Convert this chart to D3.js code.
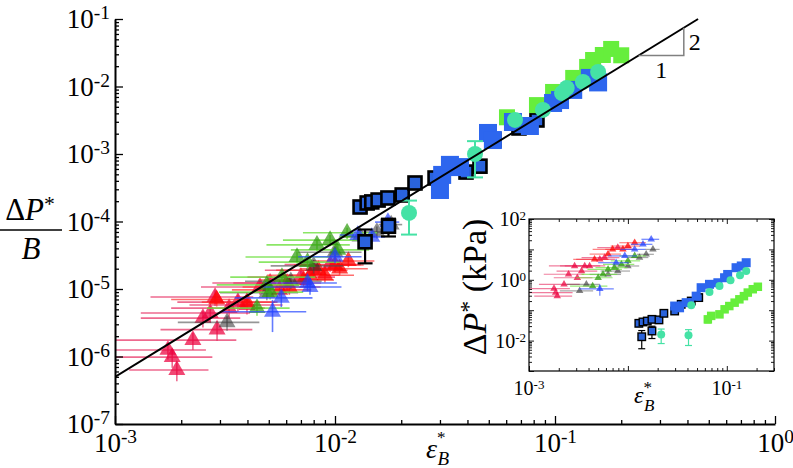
<!DOCTYPE html>
<html>
<head>
<meta charset="utf-8">
<script src="https://cdn.jsdelivr.net/npm/d3@7"></script>
<style>
  body { margin: 0; background: #fff; }
  svg { font-family: "Liberation Serif", "DejaVu Serif", serif; }
</style>
</head>
<body>
<svg id="chart" width="793" height="468"></svg>
<script>
// ---- main panel data: [eps, dP/B, xErr, yErr] ----
var mainPink = [
  [1.91e-3, 6.3e-7, 0.75e-3, 0.2e-6],
  [1.82e-3, 9.8e-7, 0.95e-3, 0.3e-6],
  [1.74e-3, 1.25e-6, 0.85e-3, 0.35e-6],
  [2.26e-3, 1.75e-6, 1.3e-3, 0.5e-6],
  [2.51e-3, 3.7e-6, 1.2e-3, 1.0e-6],
  [2.91e-3, 2.5e-6, 1.3e-3, 0.8e-6],
  [2.71e-3, 4.4e-6, 1.4e-3, 1.2e-6],
  [2.85e-3, 7.6e-6, 1.4e-3, 2.0e-6],
  [3.3e-3, 5.2e-6, 1.5e-3, 1.4e-6],
  [3.62e-3, 6.4e-6, 1.7e-3, 1.8e-6],
  [3.98e-3, 5.8e-6, 1.8e-3, 1.6e-6],
  [4.56e-3, 1.07e-5, 2.1e-3, 2.5e-6],
  [5.07e-3, 1.23e-5, 2.3e-3, 3e-6],
  [6.05e-3, 1.23e-5, 2.6e-3, 3e-6],
  [7.0e-3, 1.5e-5, 3.0e-3, 3.5e-6],
  [8.0e-3, 1.9e-5, 3.2e-3, 4e-6],
  [9.5e-3, 2.3e-5, 3.6e-3, 5e-6]
];
var mainRed = [
  [2.9e-3, 7.0e-6, 1.1e-3, 1.5e-6],
  [3.98e-3, 6.4e-6, 1.5e-3, 1.5e-6],
  [5.6e-3, 9.7e-6, 2.2e-3, 2e-6],
  [6.2e-3, 1.07e-5, 2.4e-3, 2.5e-6],
  [7.2e-3, 1.36e-5, 2.7e-3, 3e-6],
  [7.7e-3, 1.6e-5, 2.8e-3, 3e-6],
  [8.4e-3, 1.9e-5, 3.0e-3, 4e-6],
  [9.0e-3, 1.6e-5, 3.2e-3, 3.5e-6],
  [1.0e-2, 2.27e-5, 3.5e-3, 5e-6],
  [1.05e-2, 2.0e-5, 3.6e-3, 4e-6],
  [1.15e-2, 2.6e-5, 3.6e-3, 5e-6]
];
var mainGray = [
  [3.23e-3, 3.2e-6, 1.3e-3, 0.8e-6],
  [4.9e-3, 8.8e-6, 1.9e-3, 2e-6],
  [6.3e-3, 1.3e-5, 2.4e-3, 3e-6],
  [8.0e-3, 2.2e-5, 2.9e-3, 5e-6],
  [1.0e-2, 3.5e-5, 3.2e-3, 7e-6],
  [1.3e-2, 6.0e-5, 2.2e-3, 1.2e-5],
  [1.55e-2, 7.0e-5, 2.2e-3, 1.4e-5],
  [1.8e-2, 9.0e-5, 2.2e-3, 1.8e-5]
];
var mainGreen = [
  [4.42e-3, 5.2e-6, 1.8e-3, 1.2e-6],
  [4.9e-3, 1.15e-5, 2.0e-3, 2.5e-6],
  [5.07e-3, 9.0e-6, 2.1e-3, 2e-6],
  [5.74e-3, 1.5e-5, 2.4e-3, 3e-6],
  [6.72e-3, 2.98e-5, 2.8e-3, 6e-6],
  [7.5e-3, 2.5e-5, 3.0e-3, 5e-6],
  [8.28e-3, 4.5e-5, 3.4e-3, 9e-6],
  [9.5e-3, 5.3e-5, 3.7e-3, 1e-5],
  [1.03e-2, 3.8e-5, 4.0e-3, 8e-6],
  [1.135e-2, 6.8e-5, 4.2e-3, 1.3e-5]
];
var mainBlue = [
  [5.2e-3, 4.6e-6, 2.2e-3, 2.3e-6],
  [5.7e-3, 7.4e-6, 2.2e-3, 2e-6],
  [7.5e-3, 1.23e-5, 2.7e-3, 3e-6],
  [7.7e-3, 1.07e-5, 3.0e-3, 2.5e-6],
  [1.0e-2, 3.0e-5, 3.2e-3, 6e-6],
  [1.27e-2, 6.3e-5, 2.2e-3, 1.2e-5],
  [1.47e-2, 5.9e-5, 2.2e-3, 1.2e-5],
  [1.74e-2, 9.8e-5, 2.2e-3, 2e-5]
];
var mainOutlined = [
  [0.0130, 1.64e-4, 0, 0],
  [0.0140, 1.88e-4, 0, 0],
  [0.0147, 1.95e-4, 0, 0],
  [0.0157, 2.08e-4, 0, 0],
  [0.0174, 2.23e-4, 0, 0],
  [0.0202, 2.47e-4, 0, 0],
  [0.0231, 3.72e-4, 0, 0],
  [0.0285, 4.41e-4, 0, 0],
  [0.0175, 8.5e-5, 0, 2.5e-5],
  [0.0137, 5.0e-5, 0, 2.6e-5],
  [0.0394, 5.4e-4, 0, 0],
  [0.0456, 6.6e-4, 0, 0],
  [0.0528, 1.61e-3, 0, 0],
  [0.0686, 2.43e-3, 0, 0],
  [0.0828, 3.19e-3, 0, 0]
];
var mainLime = [
  [0.0605, 3.5e-3, 0, 6e-4],
  [0.0828, 5.3e-3, 0, 1e-3],
  [0.098, 8.3e-3, 0, 1.5e-3],
  [0.121, 1.34e-2, 0, 2e-3],
  [0.14, 1.95e-2, 0, 3e-3],
  [0.149, 2.47e-2, 0, 4e-3],
  [0.165, 2.93e-2, 0, 5e-3],
  [0.18, 3.6e-2, 0, 6e-3],
  [0.2, 2.9e-2, 0, 4e-3]
];
var mainBlueSq = [
  [0.0300, 2.93e-4, 0, 0],
  [0.0307, 4.9e-4, 0, 0],
  [0.0333, 6.9e-4, 0, 0],
  [0.0370, 6.4e-4, 0, 0],
  [0.0496, 2.05e-3, 0, 0],
  [0.0522, 1.61e-3, 0, 0],
  [0.0644, 2.98e-3, 0, 0],
  [0.0769, 2.6e-3, 0, 0],
  [0.098, 5.7e-3, 0, 0],
  [0.1054, 6.3e-3, 0, 0],
  [0.121, 8.9e-3, 0, 0],
  [0.144, 1.34e-2, 0, 0],
  [0.157, 1.15e-2, 0, 0]
];
var mainTeal = [
  [0.0217, 1.34e-4, 0, 7e-5],
  [0.0433, 1.0e-3, 0, 5.5e-4],
  [0.0658, 3.2e-3, 0, 0],
  [0.0881, 4.5e-3, 0, 0],
  [0.1076, 8.0e-3, 0, 0],
  [0.113, 9.5e-3, 0, 0],
  [0.134, 1.17e-2, 0, 0],
  [0.157, 1.64e-2, 0, 0]
];

// fit line dP/B = 0.5 eps^2 and the slope triangle
var fitX = [1e-3, 0.447];
var fitY = [5e-7, 0.1];
var slopeX = [0.24, 0.385];
var slopeY = [0.0288, 0.074];

// ---- inset data: [eps, dP (kPa), xErr, yErr] ----
var insetPink = [
  [1.79e-3, 0.51, 0.8e-3, 0],
  [1.93e-3, 0.29, 0.8e-3, 0],
  [1.86e-3, 0.38, 0.9e-3, 0],
  [2.26e-3, 0.71, 1.0e-3, 0],
  [2.51e-3, 1.52, 1.1e-3, 0],
  [2.89e-3, 2.85, 1.3e-3, 0],
  [3.08e-3, 1.17, 1.3e-3, 0],
  [3.4e-3, 1.94, 1.5e-3, 0],
  [3.66e-3, 2.85, 1.6e-3, 0],
  [4.1e-3, 2.85, 1.8e-3, 0],
  [5.2e-3, 4.7, 2.2e-3, 0],
  [5.8e-3, 5.4, 2.4e-3, 0],
  [7.9e-3, 11.5, 3.0e-3, 0]
];
var insetRed = [
  [4.6e-3, 4.7, 1.8e-3, 0],
  [6.3e-3, 7.0, 2.2e-3, 0],
  [7.0e-3, 10, 2.6e-3, 0],
  [8.9e-3, 10, 3.0e-3, 0],
  [1.0e-2, 12.9, 3.3e-3, 0],
  [1.17e-2, 16.6, 3.5e-3, 0]
];
var insetGray = [
  [3.25e-3, 0.43, 1.2e-3, 0],
  [3.8e-3, 0.71, 1.4e-3, 0],
  [6.3e-3, 1.5, 2.2e-3, 0],
  [7.9e-3, 1.94, 2.6e-3, 0],
  [1.0e-2, 2.85, 3.0e-3, 0],
  [1.31e-2, 5.4, 3.0e-3, 0],
  [1.53e-2, 6.9, 3.0e-3, 0],
  [1.79e-2, 10, 3.0e-3, 0]
];
var insetGreen = [
  [4.4e-3, 0.62, 1.8e-3, 0],
  [5.0e-3, 1.17, 2.0e-3, 0],
  [5.6e-3, 1.5, 2.2e-3, 0],
  [6.3e-3, 2.2, 2.4e-3, 0],
  [7.3e-3, 2.5, 2.6e-3, 0],
  [8.6e-3, 3.2, 3.0e-3, 0],
  [1.0e-2, 4.2, 3.3e-3, 0],
  [1.17e-2, 6.1, 3.5e-3, 0]
];
var insetBlue = [
  [5.2e-3, 0.5, 2.0e-3, 0.2],
  [7.6e-3, 3.65, 2.6e-3, 0],
  [9.3e-3, 6.1, 3.0e-3, 0],
  [1.17e-2, 10, 3.3e-3, 0],
  [1.42e-2, 14.7, 3.5e-3, 0],
  [1.72e-2, 21.5, 3.5e-3, 0]
];
var insetOutlined = [
  [0.0129, 0.037, 0, 0],
  [0.0142, 0.041, 0, 0],
  [0.0157, 0.044, 0, 0],
  [0.0175, 0.05, 0, 0],
  [0.0206, 0.048, 0, 0],
  [0.0231, 0.079, 0, 0],
  [0.0138, 0.0134, 0, 0.008],
  [0.0175, 0.0207, 0, 0.009],
  [0.0297, 0.094, 0, 0],
  [0.0346, 0.156, 0, 0],
  [0.0437, 0.2, 0, 0],
  [0.052, 0.26, 0, 0]
];
var insetLime = [
  [0.0643, 0.05, 0, 0.012],
  [0.0695, 0.065, 0, 0.012],
  [0.0843, 0.073, 0, 0],
  [0.095, 0.107, 0, 0],
  [0.106, 0.137, 0, 0],
  [0.12, 0.177, 0, 0],
  [0.134, 0.228, 0, 0],
  [0.149, 0.29, 0, 0],
  [0.163, 0.38, 0, 0],
  [0.183, 0.49, 0, 0],
  [0.206, 0.59, 0, 0]
];
var insetBlueSq = [
  [0.0297, 0.137, 0, 0],
  [0.0333, 0.12, 0, 0],
  [0.0388, 0.177, 0, 0],
  [0.049, 0.29, 0, 0],
  [0.055, 0.55, 0, 0],
  [0.0668, 0.71, 0, 0],
  [0.0812, 0.8, 0, 0],
  [0.0949, 1.17, 0, 0],
  [0.102, 1.5, 0, 0],
  [0.124, 2.5, 0, 0],
  [0.14, 2.85, 0, 0],
  [0.157, 3.65, 0, 0]
];
var insetTeal = [
  [0.0217, 0.016, 0, 0.008],
  [0.041, 0.0149, 0, 0.008],
  [0.0437, 0.145, 0, 0],
  [0.0668, 0.4, 0, 0],
  [0.0843, 0.625, 0, 0],
  [0.109, 0.96, 0, 0],
  [0.136, 1.4, 0, 0],
  [0.157, 1.95, 0, 0]
];

// tick values
var mainYTicks = [1e-7, 1e-6, 1e-5, 1e-4, 1e-3, 1e-2, 1e-1];
var mainXTicks = [1e-3, 1e-2, 1e-1, 1];
var insetYTicks = [1e-3, 1e-2, 1e-1, 1, 1e1, 1e2];
var insetXTicks = [1e-3, 1e-2, 1e-1];
var insetYLabels = [1e-2, 1, 1e2];
var insetXLabels = [1e-3, 1e-1];

var svg = d3.select('#chart');

function triSize(side) {
  var r = side / (2 * Math.sqrt(3));
  return r * r * 3 * Math.sqrt(3);
}
function isMinor(t) {
  var l = Math.log10(t);
  return Math.abs(l - Math.round(l)) > 1e-6;
}
function supLabel(text, d, supSize) {
  var e = Math.round(Math.log10(d));
  text.text(null);
  text.append('tspan').text('10');
  text.append('tspan').attr('dy', '-0.45em').attr('font-size', supSize).text(e);
}

function drawSeries(g, data, sx, sy, s) {
  var loX = sx.domain()[0] * 0.3, loY = sy.domain()[0] * 0.3;
  var eb = g.append('g')
      .attr('stroke', s.err)
      .attr('stroke-opacity', s.errOpacity)
      .attr('stroke-width', s.errWidth);
  data.forEach(function(d) {
    var cx = sx(d[0]), cy = sy(d[1]);
    if (d[2] > 0) {
      eb.append('line')
          .attr('x1', sx(Math.max(d[0] - d[2], loX))).attr('x2', sx(d[0] + d[2]))
          .attr('y1', cy).attr('y2', cy);
    }
    if (d[3] > 0) {
      var y0 = sy(Math.max(d[1] - d[3], loY)), y1 = sy(d[1] + d[3]);
      eb.append('line').attr('x1', cx).attr('x2', cx).attr('y1', y0).attr('y2', y1);
      if (s.cap) {
        [y0, y1].forEach(function(yy) {
          eb.append('line').attr('x1', cx - s.cap / 2).attr('x2', cx + s.cap / 2)
              .attr('y1', yy).attr('y2', yy);
        });
      }
    }
  });
  var m = g.append('g').selectAll(null).data(data).enter();
  var marks;
  if (s.shape === 'tri') {
    marks = m.append('path')
        .attr('d', d3.symbol(d3.symbolTriangle, triSize(s.size)))
        .attr('transform', function(d) { return 'translate(' + sx(d[0]) + ',' + sy(d[1]) + ')'; });
  } else if (s.shape === 'sq') {
    marks = m.append('rect')
        .attr('x', function(d) { return sx(d[0]) - s.size / 2; })
        .attr('y', function(d) { return sy(d[1]) - s.size / 2; })
        .attr('width', s.size).attr('height', s.size);
  } else {
    marks = m.append('circle')
        .attr('cx', function(d) { return sx(d[0]); })
        .attr('cy', function(d) { return sy(d[1]); })
        .attr('r', s.size / 2);
  }
  marks.attr('fill', s.fill)
      .attr('fill-opacity', s.opacity)
      .attr('stroke', s.stroke || 'none')
      .attr('stroke-width', s.strokeWidth || 0);
}

// ================= main panel =================
var x = d3.scaleLog().domain([1e-3, 1]).range([115, 775]),
    y = d3.scaleLog().domain([1e-7, 1e-1]).range([424, 19]);

svg.append('clipPath').attr('id', 'mainClip')
  .append('rect').attr('x', 115).attr('y', 0).attr('width', 660).attr('height', 424);

var plot = svg.append('g').attr('clip-path', 'url(#mainClip)');

var triSide = 17;
drawSeries(plot, mainPink, x, y, {shape: 'tri', size: triSide, fill: '#eb003d', opacity: 0.72, err: '#e8386a', errOpacity: 0.75, errWidth: 1.6});
drawSeries(plot, mainRed, x, y, {shape: 'tri', size: triSide, fill: '#ff0000', opacity: 0.75, err: '#ff3030', errOpacity: 0.7, errWidth: 1.6});
drawSeries(plot, mainGray, x, y, {shape: 'tri', size: triSide, fill: '#303030', opacity: 0.55, err: '#505050', errOpacity: 0.6, errWidth: 1.6});
drawSeries(plot, mainGreen, x, y, {shape: 'tri', size: triSide, fill: '#2c9a0c', opacity: 0.7, err: '#6ee040', errOpacity: 0.8, errWidth: 1.6});
drawSeries(plot, mainBlue, x, y, {shape: 'tri', size: triSide, fill: '#1e3cff', opacity: 0.65, err: '#3050ff', errOpacity: 0.75, errWidth: 1.6});
drawSeries(plot, mainOutlined, x, y, {shape: 'sq', size: 13, fill: '#2a63dc', opacity: 1, stroke: '#000', strokeWidth: 2.6, err: '#000', errOpacity: 1, errWidth: 2.2, cap: 15});
drawSeries(plot, mainLime, x, y, {shape: 'sq', size: 16, fill: '#66ee3c', opacity: 1, err: '#66ee3c', errOpacity: 1, errWidth: 2, cap: 14});
drawSeries(plot, mainBlueSq, x, y, {shape: 'sq', size: 18, fill: '#2d66ee', opacity: 1, err: '#2d66ee', errOpacity: 1, errWidth: 2});
drawSeries(plot, mainTeal, x, y, {shape: 'circ', size: 16, fill: '#45e2a5', opacity: 1, err: '#45e2a5', errOpacity: 1, errWidth: 2, cap: 16});

// fit line
plot.append('path')
    .datum(d3.zip(fitX, fitY))
    .attr('fill', 'none')
    .attr('stroke', '#000')
    .attr('stroke-width', 2)
    .attr('d', d3.line().x(function(d) { return x(d[0]); }).y(function(d) { return y(d[1]); }));

// slope triangle
svg.append('path')
    .attr('fill', 'none')
    .attr('stroke', '#808080')
    .attr('stroke-width', 1.5)
    .attr('d', 'M' + x(slopeX[0]) + ',' + y(slopeY[0]) + 'H' + x(slopeX[1]) + 'V' + y(slopeY[1]));
svg.append('text')
    .attr('x', (x(slopeX[0]) + x(slopeX[1])) / 2).attr('y', y(slopeY[0]) + 23)
    .attr('text-anchor', 'middle').attr('font-size', 24).text('1');
svg.append('text')
    .attr('x', x(slopeX[1]) + 5).attr('y', (y(slopeY[0]) + y(slopeY[1])) / 2 + 8)
    .attr('font-size', 24).text('2');

// main axes
var axY = svg.append('g').attr('transform', 'translate(115,0)')
    .call(d3.axisLeft(y).tickValues(mainYTicks).tickSize(-8).tickSizeOuter(0).tickPadding(5));
var axYm = svg.append('g').attr('transform', 'translate(115,0)')
    .call(d3.axisLeft(y).tickValues(y.ticks().filter(isMinor)).tickSize(-4).tickFormat(''));
var axX = svg.append('g').attr('transform', 'translate(0,424)')
    .call(d3.axisBottom(x).tickValues(mainXTicks).tickSize(-8).tickSizeOuter(0).tickPadding(9));
var axXm = svg.append('g').attr('transform', 'translate(0,424)')
    .call(d3.axisBottom(x).tickValues(x.ticks().filter(isMinor)).tickSize(-4).tickFormat(''));

[axYm, axXm].forEach(function(a) {
  a.select('.domain').remove();
  a.selectAll('text').remove();
});
[axY, axX, axYm, axXm].forEach(function(a) {
  a.selectAll('line').attr('stroke', '#000').attr('stroke-width', 1.3);
  a.select('.domain').attr('stroke', '#000').attr('stroke-width', 2);
});
[axY, axX].forEach(function(a) {
  a.selectAll('.tick text')
      .attr('font-family', '"Liberation Serif", serif')
      .attr('font-size', 27).attr('fill', '#000')
      .each(function(d) { supLabel(d3.select(this), d, '0.72em'); });
});

// main y title: dP*/B
var ty = svg.append('text').attr('x', 30).attr('y', 220).attr('text-anchor', 'middle').attr('font-size', 31);
ty.append('tspan').text('\u0394');
ty.append('tspan').attr('font-style', 'italic').text('P');
ty.append('tspan').attr('dy', '-0.4em').attr('font-size', '0.7em').text('*');
svg.append('line').attr('x1', 0).attr('x2', 62).attr('y1', 230).attr('y2', 230)
    .attr('stroke', '#000').attr('stroke-width', 1.5);
svg.append('text').attr('x', 31).attr('y', 259).attr('text-anchor', 'middle')
    .attr('font-size', 31).attr('font-style', 'italic').text('B');

// main x title: eps*_B
var tx = svg.append('text').attr('x', 426).attr('y', 458).attr('font-size', 28);
tx.append('tspan').attr('font-style', 'italic').text('\u03b5');
tx.append('tspan').attr('dy', -15).attr('font-size', 17).text('*');
tx.append('tspan').attr('dx', -8).attr('dy', 22).attr('font-size', 19).attr('font-style', 'italic').text('B');

// ================= inset =================
var xi = d3.scaleLog().domain([1e-3, 0.3]).range([529, 774]),
    yi = d3.scaleLog().domain([1e-3, 1e2]).range([371, 219]);

svg.append('rect').attr('x', 529).attr('y', 219).attr('width', 245).attr('height', 152).attr('fill', '#fff');

svg.append('clipPath').attr('id', 'insetClip')
  .append('rect').attr('x', 529).attr('y', 219).attr('width', 245).attr('height', 152);
var inset = svg.append('g').attr('clip-path', 'url(#insetClip)');

var triIn = 7.5;
drawSeries(inset, insetPink, xi, yi, {shape: 'tri', size: triIn, fill: '#eb003d', opacity: 0.72, err: '#e8386a', errOpacity: 0.65, errWidth: 1.2});
drawSeries(inset, insetRed, xi, yi, {shape: 'tri', size: triIn, fill: '#ff0000', opacity: 0.75, err: '#ff3030', errOpacity: 0.6, errWidth: 1.2});
drawSeries(inset, insetGray, xi, yi, {shape: 'tri', size: triIn, fill: '#303030', opacity: 0.6, err: '#505050', errOpacity: 0.5, errWidth: 1.2});
drawSeries(inset, insetGreen, xi, yi, {shape: 'tri', size: triIn, fill: '#2c9a0c', opacity: 0.75, err: '#6ee040', errOpacity: 0.7, errWidth: 1.2});
drawSeries(inset, insetBlue, xi, yi, {shape: 'tri', size: triIn, fill: '#1e3cff', opacity: 0.7, err: '#3050ff', errOpacity: 0.7, errWidth: 1.2});
drawSeries(inset, insetOutlined, xi, yi, {shape: 'sq', size: 7.5, fill: '#2a63dc', opacity: 1, stroke: '#000', strokeWidth: 1.4, err: '#000', errOpacity: 1, errWidth: 1.2, cap: 7});
drawSeries(inset, insetLime, xi, yi, {shape: 'sq', size: 8.5, fill: '#66ee3c', opacity: 1, err: '#66ee3c', errOpacity: 1, errWidth: 1.2, cap: 7});
drawSeries(inset, insetBlueSq, xi, yi, {shape: 'sq', size: 9, fill: '#2d66ee', opacity: 1, err: '#2d66ee', errOpacity: 1, errWidth: 1.2});
drawSeries(inset, insetTeal, xi, yi, {shape: 'circ', size: 8, fill: '#45e2a5', opacity: 1, err: '#45e2a5', errOpacity: 1, errWidth: 1.2, cap: 7});

svg.append('rect').attr('x', 529).attr('y', 219).attr('width', 245).attr('height', 152)
    .attr('fill', 'none').attr('stroke', '#000').attr('stroke-width', 1.2);

function insetAxis(axisFn, vals, size, tr) {
  var a = svg.append('g').attr('transform', tr)
      .call(axisFn.tickValues(vals).tickSize(size).tickSizeOuter(0).tickFormat(''));
  a.select('.domain').remove();
  a.selectAll('text').remove();
  a.selectAll('line').attr('stroke', '#000').attr('stroke-width', 0.9);
  return a;
}
var yMinorIn = yi.ticks().filter(isMinor), xMinorIn = xi.ticks().filter(isMinor);
insetAxis(d3.axisLeft(yi), insetYTicks, -5, 'translate(529,0)');
insetAxis(d3.axisLeft(yi), yMinorIn, -3, 'translate(529,0)');
insetAxis(d3.axisRight(yi), insetYTicks, -5, 'translate(774,0)');
insetAxis(d3.axisRight(yi), yMinorIn, -3, 'translate(774,0)');
insetAxis(d3.axisBottom(xi), insetXTicks, -5, 'translate(0,371)');
insetAxis(d3.axisBottom(xi), xMinorIn, -3, 'translate(0,371)');
insetAxis(d3.axisTop(xi), insetXTicks, -5, 'translate(0,219)');
insetAxis(d3.axisTop(xi), xMinorIn, -3, 'translate(0,219)');

// inset tick labels
insetYLabels.forEach(function(v) {
  var t = svg.append('text').attr('x', 526).attr('y', yi(v) + 7)
      .attr('text-anchor', 'end').attr('font-size', 20);
  supLabel(t, v, '0.65em');
});
insetXLabels.forEach(function(v) {
  var t = svg.append('text').attr('x', xi(v)).attr('y', 395)
      .attr('text-anchor', 'middle').attr('font-size', 20);
  supLabel(t, v, '0.65em');
});

// inset y title
var tyi = svg.append('text')
    .attr('transform', 'translate(486,287) rotate(-90)')
    .attr('text-anchor', 'middle').attr('font-size', 34);
tyi.append('tspan').text('\u0394');
tyi.append('tspan').attr('font-style', 'italic').text('P');
tyi.append('tspan').attr('dy', '-0.4em').attr('font-size', '0.7em').text('*');
tyi.append('tspan').attr('dy', '0.28em').text(' (kPa)');

// inset x title
var txi = svg.append('text').attr('x', 634).attr('y', 403).attr('font-size', 24);
txi.append('tspan').attr('font-style', 'italic').text('\u03b5');
txi.append('tspan').attr('dy', -10).attr('font-size', 17).text('*');
txi.append('tspan').attr('dx', -8).attr('dy', 18).attr('font-size', 17).attr('font-style', 'italic').text('B');
</script>
</body>
</html>
